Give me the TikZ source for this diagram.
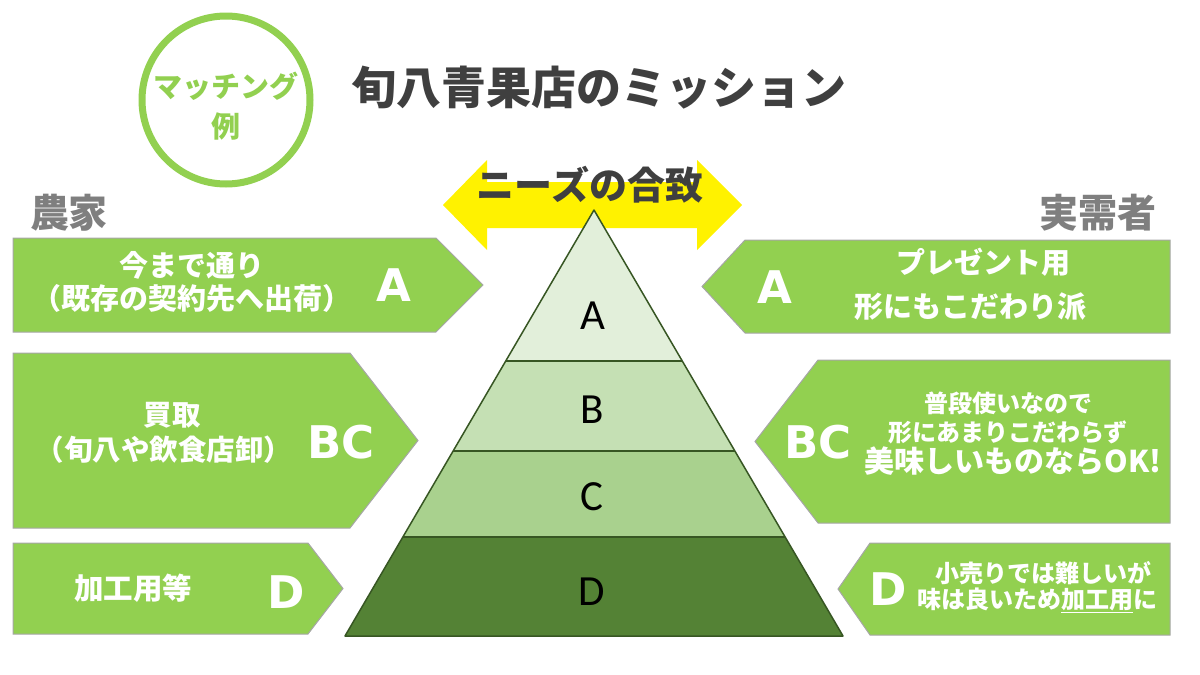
\documentclass[tikz,border=0pt]{standalone}
\usepackage{fontspec}
\newfontfamily\jp{Noto Sans CJK JP}
\newfontfamily\latb{DejaVu Sans}
\newfontfamily\calfont{Carlito}
\definecolor{lg}{HTML}{92D050}
\definecolor{tg}{HTML}{3F3F3F}
\definecolor{gy}{HTML}{7F7F7F}
\definecolor{pA}{HTML}{E2EFDA}
\definecolor{pB}{HTML}{C5E0B4}
\definecolor{pC}{HTML}{A9D18E}
\definecolor{pD}{HTML}{548235}
\definecolor{pe}{HTML}{375623}
\definecolor{bd}{HTML}{A6A6A6}
\tikzset{
  penta/.style={fill=lg, draw=bd, line width=1},
  layer/.style={draw=pe, line width=1.5, line join=round},
  big/.style={inner sep=0, text=white, font=\latb\bfseries\fontsize{45}{45}\selectfont},
  wt/.style={inner sep=0, text=white, font=\jp\bfseries\fontsize{#1}{#1}\selectfont},
  plet/.style={inner sep=0, text=black, font=\calfont\fontsize{43}{43}\selectfont},
}
\begin{document}
\begin{tikzpicture}[x=1pt,y=-1pt]
\useasboundingbox (0,0) rectangle (1200,675);
% badge and title
\node[circle, draw=lg, line width=7, minimum size=168, inner sep=0] (badge) at (226,100) {};
\node[inner sep=0, text=lg, align=center, font=\jp\bfseries\fontsize{29}{40}\selectfont] (badgetxt) at (226,106) {マッチング\\例};
\node[inner sep=0, text=tg, font=\jp\bfseries\fontsize{45}{45}\selectfont] (title) at (599,88) {旬八青果店のミッション};
% side headings
\node[inner sep=0, text=gy, font=\jp\bfseries\fontsize{39}{39}\selectfont] (farm) at (69,213) {農家};
\node[inner sep=0, text=gy, font=\jp\bfseries\fontsize{39}{39}\selectfont] (buyer) at (1098,213) {実需者};
% yellow double arrow
\fill[yellow] (443,205) -- (487,160) -- (487,182) -- (697,182) -- (697,160) -- (742,205)
  -- (697,250) -- (697,228) -- (487,228) -- (487,250) -- cycle;
\node[inner sep=0, text=tg, font=\jp\bfseries\fontsize{38}{38}\selectfont] (needs) at (590,185) {ニーズの合致};
% pyramid
\path[fill=pA] (594,210) -- (505.7,361) -- (682.3,361) -- cycle;
\path[fill=pB] (505.7,361) -- (453.1,451) -- (734.9,451) -- (682.3,361) -- cycle;
\path[fill=pC] (453.1,451) -- (403,537) -- (785,537) -- (734.9,451) -- cycle;
\path[fill=pD] (403,537) -- (345,636) -- (843,636) -- (785,537) -- cycle;
\draw[layer] (505.7,361) -- (682.3,361);
\draw[layer] (453.1,451) -- (734.9,451);
\draw[layer] (403,537) -- (785,537);
\draw[layer] (594,210) -- (345,636) -- (843,636) -- cycle;
\node[plet] (pa) at (593,316) {A};
\node[plet] (pb) at (592,410) {B};
\node[plet] (pc) at (592,497) {C};
\node[plet] (pd) at (592,592) {D};
% left pentagons
\draw[penta] (13,238) -- (436,238) -- (483,285) -- (436,332) -- (13,332) -- cycle;
\draw[penta] (13,353) -- (350,353) -- (418,440.5) -- (350,528) -- (13,528) -- cycle;
\draw[penta] (13,543) -- (308,543) -- (343,588.5) -- (308,634) -- (13,634) -- cycle;
% right pentagons
\draw[penta] (1170,240) -- (745,240) -- (702,286.5) -- (745,333) -- (1170,333) -- cycle;
\draw[penta] (1170,360) -- (818,360) -- (755,441.5) -- (818,523) -- (1170,523) -- cycle;
\draw[penta] (1170,543) -- (870,543) -- (838,589) -- (870,635) -- (1170,635) -- cycle;
% left texts
\node[wt=29] (l1a) at (192,265) {今まで通り};
\node[wt=29] (l1b) at (192,298) {（既存の契約先へ出荷）};
\node[big] (l1x) at (394,285) {A};
\node[wt=28.5] (l2a) at (172,415) {買取};
\node[wt=28.5] (l2b) at (164,450) {（旬八や飲食店卸）};
\node[big] (l2x) at (341,442) {BC};
\node[wt=29.5] (l3a) at (133,588) {加工用等};
\node[big] (l3x) at (286,592) {D};
% right texts
\node[big] (r1x) at (775,287) {A};
\node[wt=29] (r1a) at (983,262) {プレゼント用};
\node[wt=29] (r1b) at (970,307) {形にもこだわり派};
\node[big] (r2x) at (818,442) {BC};
\node[wt=24] (r2a) at (1008,403) {普段使いなので};
\node[wt=24] (r2b) at (1008,432) {形にあまりこだわらず};
\node[wt=30] (r2c) at (1013,461) {美味しいものならOK!};
\node[big] (r3x) at (888,589) {D};
\node[wt=24] (r3a) at (1043,573) {小売りでは難しいが};
\node[wt=24] (r3b) at (1037,600) {味は良いため\underline{加工用}に};
\end{tikzpicture}
\end{document}
